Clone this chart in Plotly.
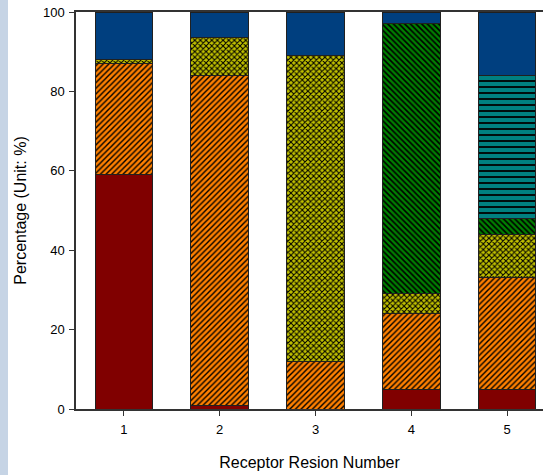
import plotly.graph_objects as go

regions = [1, 2, 3, 4, 5]
tick_vals = [1, 2, 3, 4, 5]
y_ticks = [0, 20, 40, 60, 80, 100]

s_red = [59, 1, 0, 5, 5]
s_orange = [28, 83, 12, 19, 28]
s_yellow = [1, 9.5, 77, 5, 11]
s_green = [0, 0, 0, 68, 4]
s_teal = [0, 0, 0, 0, 36]
s_blue = [12, 6.5, 11, 3, 16]

series = [
    ("Source A", s_red, "#800000", "", 0),
    ("Source B", s_orange, "#ff8000", "/", 0.35),
    ("Source C", s_yellow, "#c0c000", "x", 0.45),
    ("Source D", s_green, "#008000", "\\", 0.4),
    ("Source E", s_teal, "#008080", "-", 0.3),
    ("Source F", s_blue, "#003f7f", "", 0),
]

fig = go.Figure()
for name, vals, color, shape, sol in series:
    marker = dict(color=color, line=dict(color="#202020", width=1))
    if shape:
        size = 6 if shape == "-" else 4
        marker["pattern"] = dict(shape=shape, fgcolor="black", bgcolor=color,
                                 size=size, solidity=sol, fillmode="replace")
    fig.add_trace(go.Bar(x=regions, y=vals, name=name, marker=marker))

fig.update_layout(
    barmode="stack",
    bargap=0.4,
    width=543, height=475,
    margin=dict(l=76, r=0, t=12, b=66),
    paper_bgcolor="white",
    plot_bgcolor="white",
    showlegend=False,
    font=dict(family="Liberation Sans, Arial, sans-serif", size=13, color="black"),
    xaxis=dict(range=[0.5, 5.375], tickvals=tick_vals, ticks="outside", ticklen=5,
               ticklabelstandoff=3,
               tickcolor="#333333", showline=True, linecolor="#333333", linewidth=1.5,
               mirror=True, showgrid=False, zeroline=False,
               title=dict(text="Receptor Resion Number", font=dict(size=16), standoff=20)),
    yaxis=dict(range=[0, 100], tickvals=y_ticks, ticks="outside", ticklen=5,
               ticklabelstandoff=2,
               tickcolor="#333333", showline=True, linecolor="#333333", linewidth=1.5,
               showgrid=False, zeroline=False,
               title=dict(text="Percentage (Unit: %)", font=dict(size=16), standoff=12)),
    shapes=[dict(type="rect", xref="paper", yref="paper",
                 x0=-76 / 467, x1=(8 - 76) / 467, y0=-66 / 397, y1=(397 + 12) / 397,
                 fillcolor="#c6d4e5", line=dict(width=0), layer="below")],
)

fig.write_html("out.html")
